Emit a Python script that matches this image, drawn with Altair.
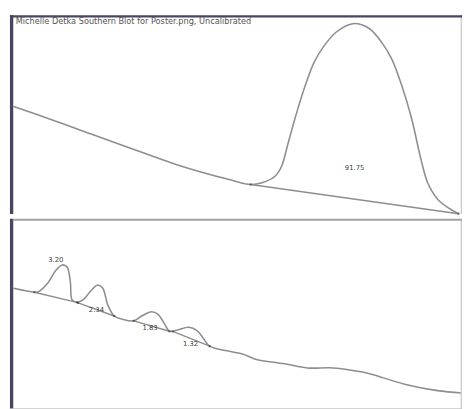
import altair as alt
import pandas as pd

TITLE = "Michelle Detka Southern Blot for Poster.png, Uncalibrated"

# ---- top lane (position in px along lane, intensity in px above panel floor)
top_pos = [3.7, 42, 78.7, 118.7, 172, 225, 247, 258.7, 272, 278.7, 285.3, 293.7,
           302, 312, 322, 335.3, 352, 368.7, 382, 392, 402, 412, 422, 428.7,
           438.7, 448.7, 460.3]
top_int = [110.3, 97, 83.7, 69.3, 50.3, 35.3, 30.3, 32, 38.7, 48.7, 72, 102,
           128.7, 155.3, 172, 187, 195.3, 190.3, 175.3, 158.7, 132, 98.7, 55.3,
           32, 15.3, 7, 0.3]
top_base_pos = [247, 460.3]
top_base_int = [30.3, 0.3]
top_label_pos = [353.7]
top_label_int = [47]
top_label_txt = ["91.75"]

# ---- bottom lane
bot_pos = [3.7, 25, 28.7, 38.7, 47, 53.7, 58.7, 62, 63.7, 68.7, 75.3, 83.7, 90.3,
           95.3, 100.3, 107, 115.3, 127, 135.3, 145.3, 152, 158.7, 163.7, 172,
           183.7, 192, 198.7, 205, 225, 238.7, 252, 282, 305, 332, 362, 372, 405,
           438.7, 463.7]
bot_int = [124.7, 120.7, 121, 130, 143, 148.7, 146.3, 131.3, 113, 110.3, 113, 123,
           128, 124.7, 108, 96.3, 93, 91.3, 96.3, 100.7, 98, 88, 80.7, 82, 84.7,
           81.3, 73, 65.3, 60, 57.3, 52, 47.3, 43, 43, 38.7, 36.3, 26.3, 19.7, 17.3]
bot_seg = ["a", "a", "b", "b", "c", "c", "d", "d"]
bot_seg_pos = [25, 68.7, 70, 107, 127, 163.7, 167, 205]
bot_seg_int = [120.7, 110.3, 109.7, 96.3, 91.3, 80.7, 80.5, 65.3]
bot_label_pos = [47, 88.7, 143.7, 185.3]
bot_label_int = [154, 102, 83.7, 67]
bot_label_txt = ["3.20", "2.34", "1.83", "1.32"]

W = 464
H_TOP = 204
H_BOT = 196
LINE = "#8e8e8e"
DARK = "#4a4560"

xs = alt.Scale(domain=[0, W])


def lane(pos, inten, bpos, bint, bseg, lpos, lint, ltxt, h, is_top):
    ys = alt.Scale(domain=[0, h])
    trace = alt.Chart(pd.DataFrame({"p": pos, "i": inten})).mark_line(
        color=LINE, strokeWidth=1.6, interpolate="catmull-rom"
    ).encode(x=alt.X("p:Q", scale=xs, axis=None), y=alt.Y("i:Q", scale=ys, axis=None))
    base = alt.Chart(pd.DataFrame({"p": bpos, "i": bint, "s": bseg})).mark_line(
        color=LINE, strokeWidth=1.5
    ).encode(x=alt.X("p:Q", scale=xs, axis=None), y=alt.Y("i:Q", scale=ys, axis=None),
             detail="s:N")
    ends = alt.Chart(pd.DataFrame({"p": bpos, "i": bint})).mark_point(
        shape="square", size=4, filled=True, color="#333333"
    ).encode(x=alt.X("p:Q", scale=xs, axis=None), y=alt.Y("i:Q", scale=ys, axis=None))
    labels = alt.Chart(pd.DataFrame({"p": lpos, "i": lint, "t": ltxt})).mark_text(
        fontSize=7, color="#444444", font="DejaVu Sans"
    ).encode(x=alt.X("p:Q", scale=xs, axis=None), y=alt.Y("i:Q", scale=ys, axis=None),
             text="t:N")
    layers = [trace, base, ends, labels]
    # frame
    left = alt.Chart(pd.DataFrame({"k": [0]})).mark_rule(color=DARK, strokeWidth=3.4).encode(
        x=alt.value(1.7), y=alt.value(0), y2=alt.value(h))
    right = alt.Chart(pd.DataFrame({"k": [0]})).mark_rule(color="#cfcfcf", strokeWidth=1.5).encode(
        x=alt.value(W - 0.8), y=alt.value(0), y2=alt.value(h))
    layers += [left, right]
    if is_top:
        topb = alt.Chart(pd.DataFrame({"k": [0]})).mark_rule(color=DARK, strokeWidth=2.5).encode(
            x=alt.value(0), x2=alt.value(W), y=alt.value(1.2))
        title = alt.Chart(pd.DataFrame({"t": [TITLE]})).mark_text(
            fontSize=8.4, color="#555555", align="left", baseline="middle", font="DejaVu Sans"
        ).encode(x=alt.value(6), y=alt.value(6.5), text="t:N")
        layers += [topb, title]
    else:
        div = alt.Chart(pd.DataFrame({"k": [0]})).mark_rule(color="#a3a3a3", strokeWidth=2).encode(
            x=alt.value(3), x2=alt.value(W), y=alt.value(1))
        botb = alt.Chart(pd.DataFrame({"k": [0]})).mark_rule(color="#c6c6c6", strokeWidth=1.5).encode(
            x=alt.value(0), x2=alt.value(W), y=alt.value(h - 0.8))
        layers += [div, botb]
    return alt.layer(*layers).properties(width=W, height=h)


top = lane(top_pos, top_int, top_base_pos, top_base_int, ["a", "a"],
           top_label_pos, top_label_int, top_label_txt, H_TOP, True)
bot = lane(bot_pos, bot_int, bot_seg_pos, bot_seg_int, bot_seg,
           bot_label_pos, bot_label_int, bot_label_txt, H_BOT, False)

chart = alt.vconcat(top, bot, spacing=0).properties(padding=0, background="white").configure_view(
    stroke=None
).configure_concat(spacing=0)

chart.save("out.html", embed_options={"renderer": "svg", "actions": False})
